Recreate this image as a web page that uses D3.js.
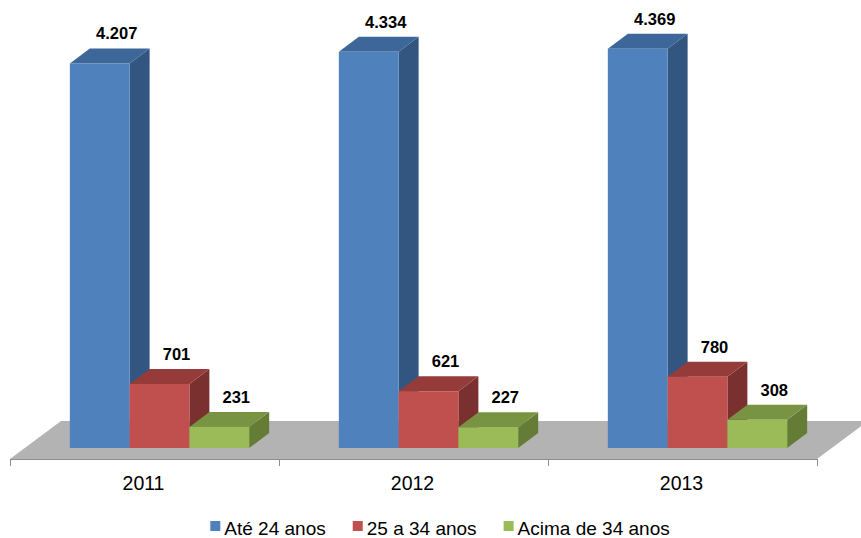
<!DOCTYPE html>
<html>
<head>
<meta charset="utf-8">
<script src="https://cdn.jsdelivr.net/npm/d3@7"></script>
<style>
  body { margin: 0; background: #fff; }
  svg { display: block; font-family: "Liberation Sans", Arial, sans-serif; }
</style>
</head>
<body>
<svg id="chart" width="861" height="538"></svg>
<script>
// data
const years = ["2011", "2012", "2013"];
const seriesNames = ["Até 24 anos", "25 a 34 anos", "Acima de 34 anos"];
const ate24 = [4207, 4334, 4369];
const de25a34 = [701, 621, 780];
const acima34 = [231, 227, 308];
const seriesValues = [ate24, de25a34, acima34];

const colors = [
    { front: "#4F81BD", top: "#3E6799", side: "#32567F" },
    { front: "#C0504D", top: "#953C3A", side: "#7A302E" },
    { front: "#9BBB59", top: "#789443", side: "#647C36" }
];

const svg = d3.select("#chart");

// pt-BR number format: 4.207
const fmt = d3.formatLocale({ decimal: ",", thousands: ".", grouping: [3], currency: ["R$", ""] }).format(",d");

// oblique projection of the floor and of the bars
const floorFront = 459, floorDx = 51, floorDy = -38;
const barShiftX = 15, barShiftY = -11;   // bar front face sits this far into the floor
const depthX = 20, depthY = -15;         // bar depth

const x0 = d3.scaleBand().domain(years).range([10, 817]);
const x1 = d3.scaleBand().domain(seriesNames).range([0, x0.bandwidth()])
    .paddingInner(0).paddingOuter(0.75);
const baseY = floorFront + barShiftY;
const y = d3.scaleLinear().domain([0, 5000]).range([baseY, baseY - 457]);

// floor
const [fx0, fx1] = x0.range();
svg.append("polygon")
    .attr("points", [
        [fx0, floorFront], [fx0 + floorDx, floorFront + floorDy],
        [fx1 + floorDx, floorFront + floorDy], [fx1, floorFront]
    ].map(p => p.join(",")).join(" "))
    .attr("fill", "#B3B3B3");

// category axis
const axis = svg.append("g");
axis.append("line")
    .attr("x1", fx0).attr("x2", fx1)
    .attr("y1", floorFront + 0.5).attr("y2", floorFront + 0.5)
    .attr("stroke", "#8E8E8E");
const tickXs = years.map(d => x0(d)).concat([fx1]);
axis.selectAll(".tick")
    .data(tickXs)
    .enter().append("line")
    .attr("x1", d => Math.round(d) + 0.5).attr("x2", d => Math.round(d) + 0.5)
    .attr("y1", floorFront).attr("y2", floorFront + 7)
    .attr("stroke", "#8E8E8E");
axis.selectAll(".lbl")
    .data(years)
    .enter().append("text")
    .attr("x", d => x0(d) + x0.bandwidth() / 2 - 1)
    .attr("y", 490)
    .attr("text-anchor", "middle")
    .attr("font-size", 19.5)
    .attr("fill", "#000")
    .text(d => d);

// bars
const bars = [];
years.forEach((yr, i) => {
    seriesNames.forEach((s, j) => {
        bars.push({ year: yr, series: s, j: j, value: seriesValues[j][i] });
    });
});

const g = svg.append("g");
bars.forEach(d => {
    const x = x0(d.year) + x1(d.series) + barShiftX;
    const w = x1.bandwidth();
    const yt = y(d.value);
    const c = colors[d.j];
    const grp = g.append("g");
    grp.append("polygon")
        .attr("points", [[x + w, yt], [x + w + depthX, yt + depthY], [x + w + depthX, baseY + depthY], [x + w, baseY]]
            .map(p => p.join(",")).join(" "))
        .attr("fill", c.side);
    grp.append("polygon")
        .attr("points", [[x, yt], [x + depthX, yt + depthY], [x + w + depthX, yt + depthY], [x + w, yt]]
            .map(p => p.join(",")).join(" "))
        .attr("fill", c.top);
    grp.append("rect")
        .attr("x", x).attr("y", yt)
        .attr("width", w).attr("height", baseY - yt)
        .attr("fill", c.front);
    svg.append("text")
        .attr("x", x + w / 2 + 17)
        .attr("y", yt + depthY - 9)
        .attr("text-anchor", "middle")
        .attr("font-size", 16.5)
        .attr("font-weight", "bold")
        .attr("fill", "#000")
        .text(fmt(d.value));
});

// legend
const legend = svg.append("g");
const items = legend.selectAll("g")
    .data(seriesNames)
    .enter().append("g");
items.append("rect")
    .attr("width", 10).attr("height", 10)
    .attr("y", 521)
    .attr("fill", (d, i) => colors[i].front);
items.append("text")
    .attr("x", 14)
    .attr("y", 535)
    .attr("font-size", 19)
    .attr("fill", "#000")
    .text(d => d);
let widths = [];
items.each(function () {
    widths.push(14 + d3.select(this).select("text").node().getComputedTextLength());
});
const gap = 27;
const total = d3.sum(widths) + gap * (widths.length - 1);
let lx = 440 - total / 2;
items.attr("transform", (d, i) => {
    const t = "translate(" + lx + ",0)";
    lx += widths[i] + gap;
    return t;
});
</script>
</body>
</html>
